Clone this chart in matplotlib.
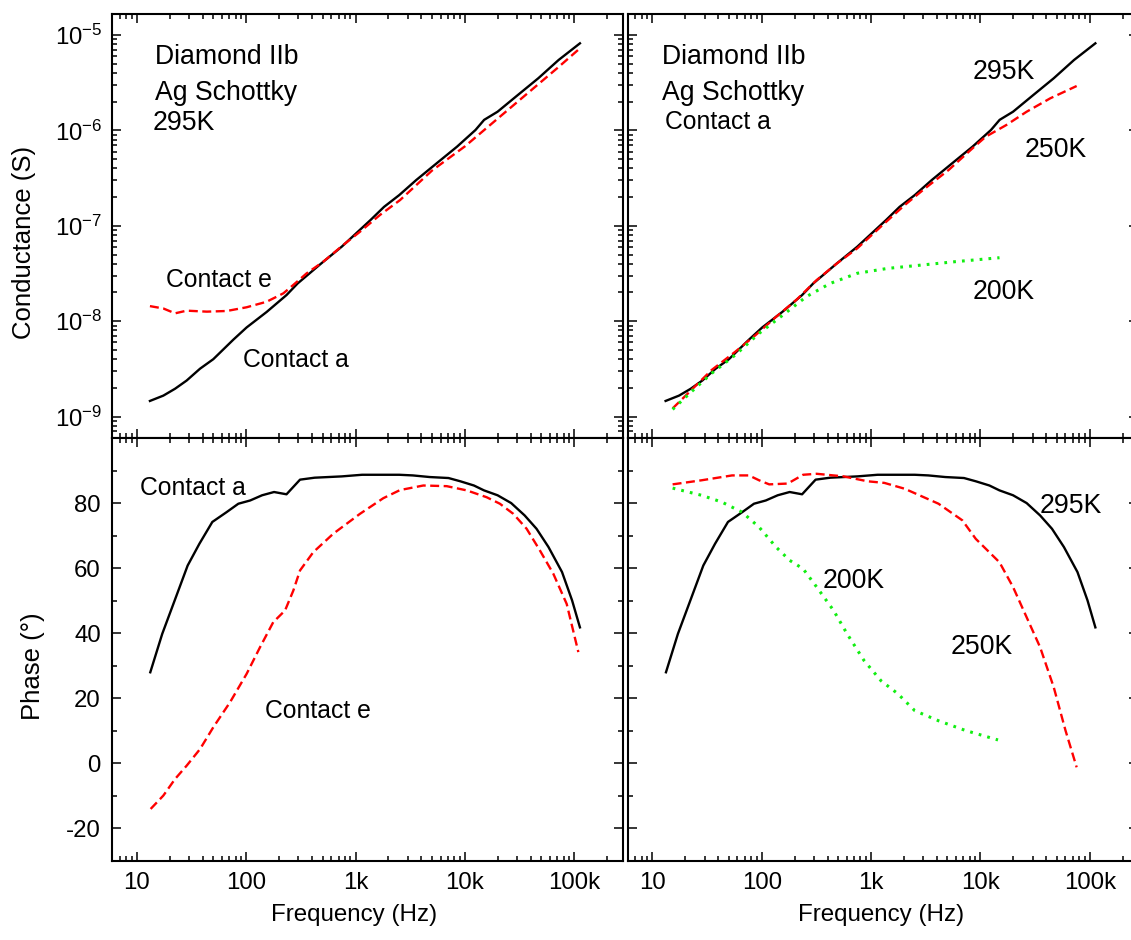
import matplotlib
matplotlib.use('Agg')
import matplotlib.pyplot as plt
import matplotlib.ticker as ticker
import numpy as np

plt.rcParams['font.family'] = ['Liberation Sans', 'DejaVu Sans']
plt.rcParams['mathtext.fontset'] = 'custom'
plt.rcParams['mathtext.rm'] = 'Liberation Sans'
plt.rcParams['mathtext.it'] = 'Liberation Sans'
plt.rcParams['axes.unicode_minus'] = False

# ---- data ----
# 295K, contact a (black, both columns)
freq_a_g = [13.2, 17.5, 22.4, 28.6, 37.9, 50.1, 76.3, 101, 154, 234, 296, 487, 748,
            1372, 1824, 2512, 3594, 5519, 8472, 12500, 15000, 19900, 30500,
            46900, 71900, 112700]
cond_a = [1.46e-9, 1.66e-9, 1.96e-9, 2.39e-9, 3.18e-9, 4.0e-9, 6.4e-9, 8.6e-9,
          1.25e-8, 1.88e-8, 2.49e-8, 4.04e-8, 6.04e-8, 1.15e-7, 1.58e-7, 2.10e-7,
          3.02e-7, 4.52e-7, 6.75e-7, 1.01e-6, 1.29e-6, 1.57e-6, 2.35e-6, 3.52e-6,
          5.47e-6, 8.18e-6]
freq_a_ph = [13.3, 17.1, 21.9, 29.2, 37.4, 49.1, 66.2, 84.9, 108.9, 140, 180, 234,
             311, 423, 748, 1148, 2512, 3342, 4775, 7079, 9078, 12100, 14960,
             19900, 26500, 35200, 45200, 58100, 77300, 95500, 112700]
phase_a = [28.0, 39.8, 49.5, 60.8, 67.5, 74.2, 77.2, 79.8, 80.8, 82.4, 83.4, 82.7,
           87.2, 87.8, 88.2, 88.7, 88.7, 88.5, 88.0, 87.7, 86.7, 85.4, 83.9,
           82.4, 80.0, 76.2, 72.1, 66.5, 58.8, 50.1, 41.8]

# 295K, contact e (red dashed, left column)
freq_e_g = [13.2, 17.5, 22.4, 28.6, 43.7, 66.5, 101, 154, 219, 270, 358, 508,
            773, 1099, 1675, 2553, 5012, 10000, 19950, 39800, 70800, 108000]
cond_e = [1.44e-8, 1.36e-8, 1.21e-8, 1.29e-8, 1.26e-8, 1.28e-8, 1.40e-8, 1.60e-8,
          1.96e-8, 2.40e-8, 3.18e-8, 4.21e-8, 6.30e-8, 8.67e-8, 1.30e-7, 1.86e-7,
          3.80e-7, 6.80e-7, 1.33e-6, 2.60e-6, 4.55e-6, 6.95e-6]
freq_e_ph = [13.4, 17.5, 22.4, 28.6, 37.9, 50.1, 71.3, 101, 134, 177, 227, 270,
             311, 411, 627, 1099, 1795, 2553, 4169, 6823, 10400, 15800, 20900,
             27700, 36700, 48600, 64300, 85300, 109000]
phase_e = [-14.0, -9.9, -4.8, -0.7, 4.4, 11.1, 18.8, 27.5, 35.7, 43.4, 47.0, 53.1,
           59.3, 64.9, 70.6, 76.7, 81.5, 84.0, 85.4, 85.2, 83.9, 81.8, 79.8,
           76.7, 72.1, 65.4, 58.3, 49.0, 34.2]

# contact a, 250K (red dashed, right column)
freq_250 = [15.3, 22.7, 34.8, 57.3, 87.9, 135, 207, 318, 488, 748, 1324, 2032,
            3119, 5129, 8472, 11200, 17300, 26500, 43600, 76000]
cond_250 = [1.22e-9, 1.90e-9, 3.08e-9, 4.79e-9, 7.16e-9, 1.11e-8, 1.67e-8, 2.70e-8,
            4.04e-8, 5.81e-8, 1.06e-7, 1.65e-7, 2.47e-7, 3.85e-7, 6.49e-7, 8.59e-7,
            1.14e-6, 1.57e-6, 2.17e-6, 2.92e-6]
freq_250_ph = [15.3, 28.1, 53.5, 76.4, 94.6, 117, 173, 239, 318, 562, 927, 1324,
               2032, 4140, 6839, 9078, 14960, 19900, 26500, 35200, 46900, 60100,
               76000]
phase_250 = [85.75, 87.0, 88.5, 88.5, 87.0, 85.75, 86.0, 88.7, 89.0, 88.2, 86.7,
             86.2, 84.4, 79.8, 74.7, 69.0, 61.8, 54.2, 44.9, 35.7, 23.4, 10.1, -1.2]

# contact a, 200K (green dotted, right column)
freq_200 = [15.3, 22.7, 34.8, 57.3, 94.6, 156, 256, 423, 748, 1422, 2904, 5916,
            14960]
cond_200 = [1.19e-9, 1.82e-9, 2.84e-9, 4.43e-9, 7.46e-9, 1.16e-8, 1.81e-8, 2.49e-8,
            3.18e-8, 3.58e-8, 3.88e-8, 4.21e-8, 4.63e-8]
freq_200_ph = [15.3, 28.1, 43.2, 66.2, 94.6, 135, 180, 239, 318, 454, 604, 863,
               1233, 1758, 2512, 4140, 7328, 14500]
phase_200 = [84.6, 82.4, 80.3, 77.2, 72.6, 66.5, 62.4, 59.8, 54.2, 47.0, 39.8,
             31.6, 25.4, 21.4, 16.2, 13.1, 10.1, 7.2]

x_ticks = [10, 100, 1e3, 1e4, 1e5]
x_tick_labels = ['10', '100', '1k', '10k', '100k']
g_ticks = [1e-9, 1e-8, 1e-7, 1e-6, 1e-5]
phase_ticks = [-20, 0, 20, 40, 60, 80]

W, H = 1131, 940
fig = plt.figure(figsize=(W / 100, H / 100), dpi=100)


def px_axes(x0, y0, x1, y1):
    return fig.add_axes([x0 / W, 1 - y1 / H, (x1 - x0) / W, (y1 - y0) / H])


ax_gl = px_axes(112, 14, 623, 438)
ax_gr = px_axes(627.7, 14, 1138.4, 438)
ax_pl = px_axes(112, 438, 623, 861)
ax_pr = px_axes(627.7, 438, 1138.4, 861)

FS = 17.3      # tick labels
FS_BIG = 19.2  # sample / temperature notes
FS_C = 17.8    # contact notes
red = '#ff0000'
green = '#11ee11'
LW = 1.7
dash = (0, (3.8, 1.9))
dot = (0, (0.9, 2.0))

for ax in (ax_gl, ax_gr, ax_pl, ax_pr):
    ax.set_xscale('log')
    ax.set_xlim(5.94, 2.79e5)
    ax.xaxis.set_major_locator(ticker.FixedLocator(x_ticks))
    ax.xaxis.set_major_formatter(ticker.FixedFormatter(x_tick_labels))
    ax.xaxis.set_minor_locator(ticker.LogLocator(base=10, subs=np.arange(2, 10)))
    ax.xaxis.set_minor_formatter(ticker.NullFormatter())
    ax.tick_params(which='both', direction='in', top=True, right=True,
                   labelsize=FS, width=1.1, color='black')
    ax.tick_params(which='major', length=6.5, pad=8)
    ax.tick_params(which='minor', length=3.5)
    for s in ax.spines.values():
        s.set_linewidth(1.5)

for ax in (ax_gl, ax_gr):
    ax.set_yscale('log')
    ax.set_ylim(5.97e-10, 1.66e-5)
    ax.yaxis.set_major_locator(ticker.FixedLocator(g_ticks))
    ax.yaxis.set_major_formatter(ticker.FuncFormatter(
        lambda v, p: '10$^{%d}$' % round(np.log10(v))))
    ax.yaxis.set_minor_locator(ticker.LogLocator(base=10, subs=np.arange(2, 10)))
    ax.yaxis.set_minor_formatter(ticker.NullFormatter())
    ax.tick_params(axis='x', labelbottom=False)

for ax in (ax_pl, ax_pr):
    ax.set_ylim(-30, 100)
    ax.yaxis.set_major_locator(ticker.FixedLocator(phase_ticks))
    ax.yaxis.set_minor_locator(ticker.MultipleLocator(10))

ax_gr.tick_params(axis='y', labelleft=False)
ax_pr.tick_params(axis='y', labelleft=False)
ax_gl.tick_params(axis='y', pad=7)

# conductance, left
ax_gl.plot(freq_a_g, cond_a, color='black', lw=LW)
ax_gl.plot(freq_e_g, cond_e, color=red, lw=LW, linestyle=dash)
# conductance, right
ax_gr.plot(freq_a_g, cond_a, color='black', lw=LW)
ax_gr.plot(freq_250, cond_250, color=red, lw=LW, linestyle=dash)
ax_gr.plot(freq_200, cond_200, color=green, lw=2.2, linestyle=dot)
# phase, left
ax_pl.plot(freq_a_ph, phase_a, color='black', lw=LW)
ax_pl.plot(freq_e_ph, phase_e, color=red, lw=LW, linestyle=dash)
# phase, right
ax_pr.plot(freq_a_ph, phase_a, color='black', lw=LW)
ax_pr.plot(freq_250_ph, phase_250, color=red, lw=LW, linestyle=dash)
ax_pr.plot(freq_200_ph, phase_200, color=green, lw=2.2, linestyle=dot)

big = dict(fontsize=FS_BIG, ha='left', va='center')
con = dict(fontsize=FS_C, ha='left', va='center')
ax_gl.text(14.7, 5.9e-6, 'Diamond IIb', **big)
ax_gl.text(14.7, 2.47e-6, 'Ag Schottky', **big)
ax_gl.text(14.1, 1.2e-6, '295K', **big)
ax_gl.text(18.5, 2.7e-8, 'Contact e', **con)
ax_gl.text(93.8, 3.9e-9, 'Contact a', **con)

ax_gr.text(12.2, 5.9e-6, 'Diamond IIb', **big)
ax_gr.text(12.2, 2.47e-6, 'Ag Schottky', **big)
ax_gr.text(13.0, 1.22e-6, 'Contact a', **con)
ax_gr.text(8500, 4.1e-6, '295K', **big)
ax_gr.text(25500, 6.2e-7, '250K', **big)
ax_gr.text(8500, 2.0e-8, '200K', **big)

ax_pl.text(10.7, 84.5, 'Contact a', **con)
ax_pl.text(149, 16.2, 'Contact e', **con)

ax_pr.text(35000, 79.0, '295K', **big)
ax_pr.text(361, 55.9, '200K', **big)
ax_pr.text(5400, 35.9, '250K', **big)

fig.text(24 / W, 1 - 242 / H, 'Conductance (S)', rotation=90, fontsize=18.5,
         ha='center', va='center')
fig.text(33 / W, 1 - 666 / H, 'Phase (°)', rotation=90, fontsize=18.5,
         ha='center', va='center')
fig.text(354 / W, 1 - 915 / H, 'Frequency (Hz)', fontsize=17.4, ha='center', va='center')
fig.text(881 / W, 1 - 915 / H, 'Frequency (Hz)', fontsize=17.4, ha='center', va='center')

fig.savefig('out.png', dpi=100, facecolor='white')
